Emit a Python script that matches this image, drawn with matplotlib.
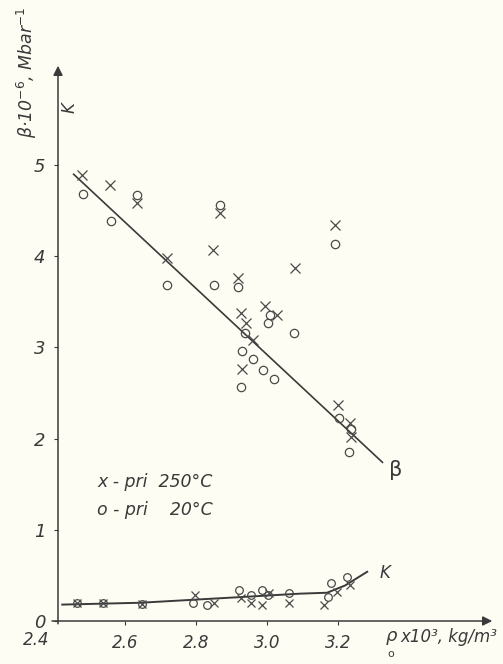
import numpy as np
from matplotlib import pyplot as plt

# beta - pontos a 250 C (x) e a 20 C (o)
beta_x_250 = [2.479, 2.558, 2.634, 2.718, 2.848, 2.868, 2.918, 3.079, 3.192, 2.927,
              2.941, 2.961, 2.994, 3.028, 2.930, 3.200, 3.234, 3.237]
beta_y_250 = [4.89, 4.78, 4.58, 3.98, 4.07, 4.47, 3.76, 3.87, 4.34, 3.38,
              3.27, 3.08, 3.46, 3.36, 2.76, 2.37, 2.17, 2.02]
beta_x_20 = [2.482, 2.561, 2.634, 2.718, 2.868, 2.851, 2.918, 3.192, 2.938, 3.008,
             3.003, 3.076, 2.930, 2.961, 2.989, 3.020, 2.927, 3.203, 3.237, 3.231]
beta_y_20 = [4.68, 4.39, 4.67, 3.68, 4.56, 3.68, 3.66, 4.14, 3.16, 3.36,
             3.27, 3.16, 2.96, 2.87, 2.75, 2.65, 2.57, 2.23, 2.11, 1.85]

# reta ajustada de beta
beta_fit_x = [2.455, 3.325]
beta_fit_y = [4.90, 1.74]

# K - pontos
k_x_250 = [2.465, 2.538, 2.648, 2.797, 2.850, 2.926, 2.955, 2.986, 3.006, 3.062, 3.161, 3.197, 3.234]
k_y_250 = [0.20, 0.20, 0.19, 0.29, 0.20, 0.25, 0.20, 0.18, 0.31, 0.20, 0.18, 0.32, 0.39]
k_x_20 = [2.465, 2.538, 2.648, 2.792, 2.831, 2.920, 2.955, 2.986, 3.003, 3.062, 3.172, 3.180, 3.225]
k_y_20 = [0.20, 0.20, 0.19, 0.20, 0.18, 0.34, 0.29, 0.34, 0.29, 0.31, 0.26, 0.42, 0.48]

# curva de K
k_curve_x = [2.423, 2.642, 2.915, 3.093, 3.169, 3.220, 3.282]
k_curve_y = [0.18, 0.20, 0.26, 0.30, 0.31, 0.39, 0.54]

x_ticks = [2.6, 2.8, 3.0, 3.2]
y_ticks = [0, 1, 2, 3, 4, 5]

ink = '#3a3a3a'
paper = '#fdfdf3'

fig = plt.figure(figsize=(5.03, 6.64), dpi=100, facecolor=paper)
ax = fig.add_axes([58 / 503, 43 / 664, 437 / 503, 558 / 664])
ax.set_facecolor(paper)
ax.set_xlim(2.411, 3.642)
ax.set_ylim(0, 6.12)

ax.plot(beta_fit_x, beta_fit_y, color=ink, lw=1.2)
ax.plot(k_curve_x, k_curve_y, color=ink, lw=1.4)

ax.plot(beta_x_250, beta_y_250, 'x', color='#4a4a4a', ms=6.5, mew=0.9)
ax.plot(beta_x_20, beta_y_20, 'o', color='#4a4a4a', ms=6, mew=0.9, mfc='none')
ax.plot(k_x_250, k_y_250, 'x', color='#4a4a4a', ms=6, mew=0.9)
ax.plot(k_x_20, k_y_20, 'o', color='#4a4a4a', ms=5.5, mew=0.9, mfc='none')

# eixos com setas
for s in ax.spines.values():
    s.set_visible(False)
ax.annotate('', xy=(0, 1.0), xytext=(0, -0.01), xycoords='axes fraction',
            arrowprops=dict(arrowstyle='-|>', color=ink, lw=1.1, mutation_scale=14))
ax.annotate('', xy=(1.0, 0), xytext=(-0.02, 0), xycoords='axes fraction',
            arrowprops=dict(arrowstyle='-|>', color=ink, lw=1.1, mutation_scale=14))

ax.set_xticks(x_ticks)
ax.set_xticklabels(['2.6', '2.8', '3.0', '3.2'], fontsize=12, style='italic', color=ink)
ax.set_yticks(y_ticks)
ax.set_yticklabels([str(v) for v in y_ticks], fontsize=13, style='italic', color=ink)
ax.tick_params(axis='both', direction='out', length=3, color=ink, pad=6)

# rotulos
fig.text(36 / 503, 1 - 640 / 664, '2.4', fontsize=12, style='italic', color=ink,
         ha='center', va='center')
fig.text(27 / 503, 1 - 72 / 664, 'β·10$^{-6}$, Mbar$^{-1}$', fontsize=12.5, style='italic',
         color=ink, rotation=90, ha='center', va='center')
fig.text(70 / 503, 1 - 108 / 664, 'K', fontsize=12, style='italic', color=ink,
         rotation=90, ha='center', va='center')
fig.text(385 / 503, 1 - 573 / 664, 'K', fontsize=12, style='italic', color=ink,
         ha='center', va='center')
fig.text(396 / 503, 1 - 470 / 664, 'β', fontsize=15, color=ink, ha='center', va='center')

fig.text(97 / 503, 1 - 482 / 664, 'x - pri  250°C', fontsize=12.5, style='italic',
         color=ink, ha='left', va='center')
fig.text(97 / 503, 1 - 510 / 664, 'o - pri    20°C', fontsize=12.5, style='italic',
         color=ink, ha='left', va='center')

fig.text(391 / 503, 1 - 636 / 664, 'ρ', fontsize=13, style='italic', color=ink,
         ha='center', va='center')
fig.text(391 / 503, 1 - 654 / 664, 'o', fontsize=8, color=ink, ha='center', va='center')
fig.text(400 / 503, 1 - 637 / 664, 'x10³, kg/m³', fontsize=12, style='italic', color=ink,
         ha='left', va='center')

plt.savefig('out.png', dpi=100, facecolor=paper)
